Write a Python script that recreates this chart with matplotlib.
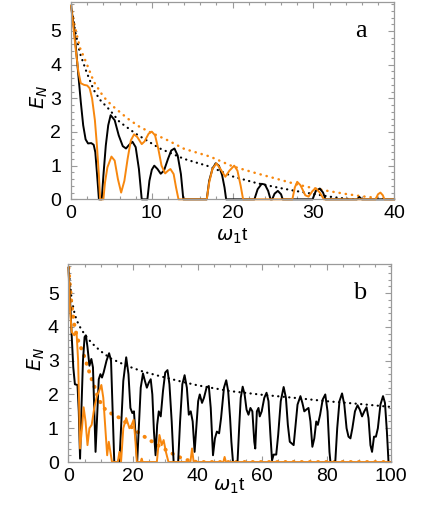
import numpy as np
import matplotlib
matplotlib.use('Agg')
from matplotlib import pyplot as plt
from matplotlib.ticker import MultipleLocator

plt.rcParams['font.family'] = ['Liberation Sans', 'DejaVu Sans']
plt.rcParams['mathtext.fontset'] = 'dejavusans'

ORANGE = '#f7870e'
FRAME = '#9a9a9a'

# ---- panel a: (t, E_N) ----
a_black_t = [0, 0.3, 0.6, 0.9, 1.2, 1.5, 1.8, 2.1, 2.5, 2.8, 3.0, 3.2, 3.45, 3.8,
             4.0, 4.3, 4.6, 4.9, 5.4, 5.9, 6.4, 6.8, 7.2, 7.6, 8.0, 8.4, 8.75,
             9.45, 9.7, 10.0, 10.3, 10.7, 11.1, 11.5, 12.0, 12.4, 12.8, 13.2,
             13.6, 13.9, 16.8, 17.1, 17.5, 17.9, 18.3, 18.7, 19.0, 19.2,
             22.7, 23.1, 23.6, 24.0, 24.4, 24.7, 24.9, 25.2, 25.6, 26.0, 26.2,
             29.9, 30.3, 30.8, 31.2, 31.5, 35.4, 35.7, 36.0, 40]
a_black_E = [5.75, 5.2, 4.5, 3.7, 2.9, 2.2, 1.78, 1.66, 1.67, 1.62, 1.4, 0.8, 0.0, 0.0,
             0.7, 1.6, 2.2, 2.5, 2.35, 1.9, 1.58, 1.51, 1.62, 1.71, 1.55, 0.9, 0.0,
             0.0, 0.55, 0.88, 1.0, 0.9, 0.76, 0.85, 1.2, 1.45, 1.51, 1.3,
             0.75, 0.0, 0.0, 0.55, 0.9, 1.07, 1.0, 0.72, 0.35, 0.0,
             0.0, 0.3, 0.46, 0.44, 0.25, 0.0, 0.0, 0.17, 0.25, 0.15, 0.0,
             0.0, 0.25, 0.32, 0.2, 0.0, 0.0, 0.07, 0.0, 0.0]

a_orange_t = [0, 0.3, 0.6, 0.9, 1.2, 1.6, 2.0, 2.3, 2.6, 2.95, 3.2, 3.45, 3.6, 4.0,
              4.2, 4.5, 5.0, 5.4, 5.8, 6.2, 6.6, 7.0, 7.4, 7.8, 8.2, 8.75, 9.1,
              9.6, 10.0, 10.4, 10.8, 11.2, 11.65, 12.0, 12.3, 12.7, 13.0, 13.3,
              16.8, 17.1, 17.5, 18.0, 18.5, 19.1, 19.6, 20.2, 20.6, 21.0, 21.3,
              27.4, 27.7, 28.0, 28.4, 29.0, 29.4, 29.9, 30.3, 30.8, 31.3,
              37.7, 38.0, 38.3, 38.6, 38.8, 40]
a_orange_E = [5.75, 5.1, 4.4, 3.8, 3.45, 3.4, 3.38, 3.3, 3.0, 2.35, 1.6, 0.7, 0.0, 0.0,
              0.5, 0.95, 1.27, 1.15, 0.6, 0.2, 0.55, 1.2, 1.75, 1.93, 1.85, 1.64, 1.72,
              1.95, 2.01, 1.9, 1.5, 1.0, 0.77, 0.85, 0.9, 0.75, 0.35, 0.0,
              0.0, 0.5, 0.9, 1.07, 0.9, 0.67, 0.85, 1.0, 0.85, 0.4, 0.0,
              0.0, 0.35, 0.52, 0.42, 0.12, 0.08, 0.25, 0.33, 0.2, 0.0,
              0.0, 0.15, 0.2, 0.12, 0.0, 0.0]

a_black_env_t = [0, 0.5, 1.1, 1.9, 2.8, 3.6, 4.8, 6, 8, 11, 14, 17.2, 20, 23, 26, 28, 30, 32, 34, 35]
a_black_env_E = [5.75, 5.0, 4.34, 3.79, 3.25, 2.95, 2.65, 2.3, 1.95, 1.51, 1.2, 0.97, 0.68, 0.48, 0.33, 0.24, 0.16, 0.08, 0.02, 0.0]

a_orange_env_t = [0, 0.5, 1.1, 1.9, 2.8, 4, 5, 6, 7, 8.5, 10, 11, 12, 14, 17.2, 20, 23, 25, 28, 30, 32, 34, 36, 38, 39]
a_orange_env_E = [5.75, 5.1, 4.5, 4.05, 3.5, 3.05, 2.8, 2.6, 2.4, 2.15, 1.97, 1.86, 1.75, 1.5, 1.27, 0.98, 0.77, 0.64, 0.44, 0.33, 0.24, 0.16, 0.09, 0.04, 0.0]

# ---- panel b ----
b_black_t = [0, 0.5, 1.0, 1.5, 2.0, 2.8, 3.2, 3.6, 4.0, 4.5, 5.0, 5.4, 5.9, 6.5, 7.1, 7.6,
             8.0, 8.4, 8.9, 9.4, 9.9, 10.4, 10.9, 11.8, 12.6, 13.2, 13.7, 14.2, 15.8,
             16.4, 17.0, 17.9, 18.6, 19.2, 19.8, 20.3, 20.8, 21.3, 21.8, 22.4, 23.1,
             23.7, 24.3, 24.9, 25.5, 26.0, 26.5, 27.0, 27.5, 28.0, 28.6, 29.3, 30.0,
             30.7, 31.3, 32.0, 32.6, 34.0, 34.6, 35.3, 36.0, 36.7, 37.3, 37.9, 38.5,
             39.1, 39.6, 40.2, 40.7, 41.4, 42.0, 42.8, 43.5, 44.1, 44.8, 45.4, 46.0,
             46.7, 47.3, 48.2, 48.9, 49.5, 50.1, 50.5, 51.0, 52.4, 52.9, 53.4, 54.0,
             54.6, 55.2, 55.8, 56.4, 57.0, 57.6, 57.9, 58.4, 58.9, 59.3, 59.9, 60.7,
             61.4, 62.0, 62.6, 63.1, 63.6, 64.4, 65.0, 65.8, 66.7, 67.4, 68.0, 68.6,
             69.2, 69.8, 70.3, 71.0, 71.9, 72.5, 73.1, 73.7, 74.4, 75.0, 75.6, 76.2,
             76.8, 77.3, 78.0, 78.8, 79.6, 80.3, 80.9, 81.2, 82.7, 83.3, 84.0, 84.8,
             85.5, 86.2, 86.8, 87.4, 88.0, 88.8, 89.6, 90.3, 91.0, 91.7, 92.4, 93.0,
             93.6, 94.1, 94.7, 95.3, 95.9, 96.7, 97.5, 98.1, 98.7, 99.2, 100]
b_black_E = [5.75, 4.8, 3.75, 2.8, 2.3, 2.28, 1.5, 0.1, 1.5, 3.0, 3.7, 3.75, 3.4, 2.85, 3.05, 2.8,
             1.5, 0.3, 1.4, 2.45, 2.6, 2.5, 2.65, 3.0, 3.22, 3.0, 1.5, 0.0, 0.0,
             1.2, 2.4, 3.1, 2.6, 1.6, 1.45, 1.5, 0.8, 0.0, 1.0, 2.2, 2.62,
             2.4, 2.2, 2.35, 2.45, 2.0, 0.9, 0.2, 1.1, 1.5, 1.35, 2.1, 2.65,
             2.72, 2.3, 1.2, 0.0, 0.0, 1.2, 2.3, 2.57, 2.2, 1.4, 1.5, 1.2,
             0.3, 1.0, 1.8, 2.0, 1.75, 1.9, 2.2, 2.25, 1.6, 0.2, 0.7, 0.9,
             0.85, 1.3, 2.2, 2.42, 2.1, 1.3, 0.6, 0.0, 0.0, 1.0, 1.9, 2.23,
             2.0, 1.55, 1.4, 1.6, 1.5, 0.6, 0.4, 1.5, 1.6, 1.35, 1.5, 1.9,
             2.05, 1.8, 0.8, 0.05, 0.22, 0.22, 0.8, 1.8, 2.22, 1.9, 1.1, 0.6,
             0.55, 0.5, 1.0, 1.7, 1.95, 1.75, 1.5, 1.55, 1.6, 1.2, 0.45, 0.7,
             1.2, 1.1, 1.4, 1.85, 2.0, 1.5, 0.3, 0.0, 0.0, 1.0, 1.8, 2.03,
             1.7, 1.0, 0.75, 0.7, 1.0, 1.5, 1.68, 1.55, 1.35, 1.5, 1.62, 1.3,
             0.5, 0.3, 0.75, 0.75, 1.0, 1.7, 1.95, 1.75, 0.9, 0.0, 0.0]

b_orange_t = [0, 0.5, 1.0, 1.8, 2.5, 3.0, 3.6, 4.2, 4.7, 5.3, 5.9, 6.5, 7.2, 8.0, 8.8,
              9.5, 10.2, 10.8, 11.5, 12.0, 12.5, 13.0, 13.5, 15.3, 15.8, 16.3, 17.0,
              17.9, 18.9, 19.6, 20.2, 20.7, 21.2, 22.4, 22.7, 23.0, 27.4, 28.2, 28.9,
              29.5, 30.2, 31.0, 37.8, 38.3, 38.8, 48.0, 48.4, 48.8, 100]
b_orange_E = [5.75, 4.5, 3.85, 3.75, 3.85, 3.0, 0.4, 1.0, 1.62, 1.2, 0.5, 1.0, 1.1, 1.6, 1.95,
              2.1, 2.28, 1.9, 0.9, 0.2, 0.6, 0.3, 0.0, 0.0, 0.3, 0.0, 1.0,
              1.3, 1.0, 1.1, 1.25, 0.7, 0.0, 0.0, 0.1, 0.0, 0.0, 0.8, 0.5,
              0.65, 0.3, 0.0, 0.0, 0.4, 0.0, 0.0, 0.15, 0.0, 0.0]

b_black_env_t = [0, 1, 2, 3, 4, 6, 8, 10, 13, 18, 23, 28, 35, 40, 50, 60, 70, 80, 90, 100]
b_black_env_E = [5.75, 4.8, 4.35, 4.1, 3.92, 3.65, 3.45, 3.28, 3.07, 2.85, 2.68, 2.55, 2.38, 2.27, 2.1, 1.99, 1.9, 1.8, 1.72, 1.63]

b_orange_env_t = [0, 1, 2, 3, 4, 5, 6, 7, 8, 9, 10, 11, 12, 14, 16, 18, 20, 22, 24, 26, 28, 30, 32, 34, 36, 38, 40, 100]
b_orange_env_E = [5.75, 4.6, 3.95, 3.6, 3.35, 3.1, 2.8, 2.5, 2.25, 1.95, 1.75, 1.6, 1.5, 1.4, 1.3, 1.15, 1.0, 0.85, 0.72, 0.6, 0.48, 0.37, 0.26, 0.16, 0.08, 0.03, 0.0, 0.0]

fig = plt.figure(figsize=(4.36, 5.09), dpi=100)
ax1 = fig.add_axes([0.163, 0.6084, 0.741, 0.3876])
ax2 = fig.add_axes([0.157, 0.0923, 0.740, 0.389])


def style(ax, xmax, xmajor, xminor):
    ax.set_xlim(0, xmax)
    ax.set_ylim(0, 5.86)
    ax.xaxis.set_major_locator(MultipleLocator(xmajor))
    ax.xaxis.set_minor_locator(MultipleLocator(xminor))
    ax.yaxis.set_major_locator(MultipleLocator(1))
    ax.yaxis.set_minor_locator(MultipleLocator(0.2))
    ax.tick_params(which='both', direction='in', top=True, right=True,
                   color=FRAME, labelsize=14, width=0.8)
    ax.tick_params(which='major', length=4)
    ax.tick_params(which='minor', length=2)
    ax.tick_params(axis='y', pad=7)
    ax.tick_params(axis='x', pad=4)
    for s in ax.spines.values():
        s.set_color(FRAME)
        s.set_linewidth(0.9)


dot = (0, (0.1, 2.4))

style(ax1, 40, 10, 2)
ax1.plot(a_black_env_t, a_black_env_E, color='k', lw=1.6, ls=dot, dash_capstyle='round')
ax1.plot(a_orange_env_t, a_orange_env_E, color=ORANGE, lw=1.8, ls=dot, dash_capstyle='round')
ax1.plot(a_black_t, a_black_E, color='k', lw=1.4, clip_on=False)
ax1.plot(a_orange_t, a_orange_E, color=ORANGE, lw=1.4, clip_on=False)
ax1.text(35.9, 5.0, 'a', family='Liberation Serif', fontsize=19, ha='center', va='center')
ax1.set_xlabel(r'$\omega_1$t', fontsize=14)
ax1.set_ylabel(r'$E_N$', fontsize=14)
ax1.xaxis.set_label_coords(0.5, -0.14)
ax1.yaxis.set_label_coords(-0.065, 0.52)

style(ax2, 100, 20, 5)
ax2.plot(b_black_env_t, b_black_env_E, color='k', lw=1.6, ls=dot, dash_capstyle='round')
ax2.plot(b_orange_env_t, b_orange_env_E, color=ORANGE, lw=2.8, ls=(0, (0.1, 2.0)), dash_capstyle='round')
ax2.plot(b_black_t, b_black_E, color='k', lw=1.4, clip_on=False)
ax2.plot(b_orange_t, b_orange_E, color=ORANGE, lw=1.4, clip_on=False)
ax2.text(90.4, 5.0, 'b', family='Liberation Serif', fontsize=19, ha='center', va='center')
ax2.set_xlabel(r'$\omega_1$t', fontsize=14)
ax2.set_ylabel(r'$E_N$', fontsize=14)
ax2.xaxis.set_label_coords(0.5, -0.075)
ax2.yaxis.set_label_coords(-0.065, 0.52)

fig.savefig('out.png', dpi=100)
